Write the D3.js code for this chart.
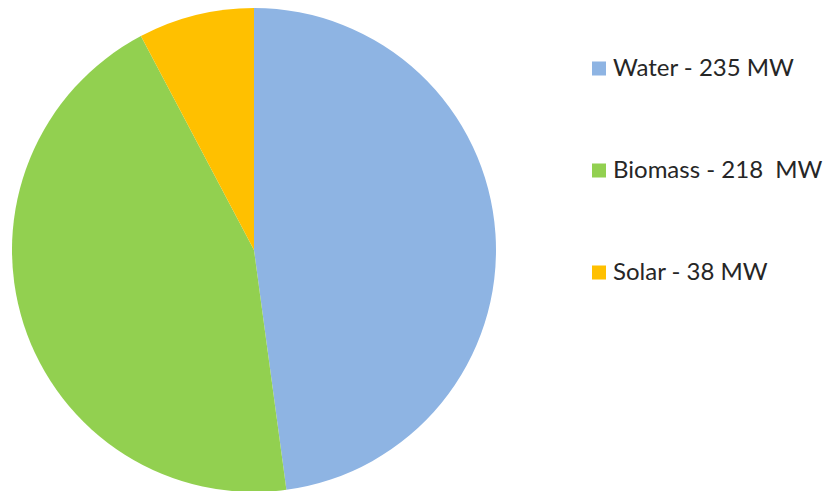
<!DOCTYPE html>
<html><head><meta charset="utf-8">
<script src="https://cdn.jsdelivr.net/npm/d3@7"></script>
<style>body{margin:0;background:#fff}svg{display:block}</style>
</head><body>
<script>
const categories = ["Water", "Biomass", "Solar"];
const values = [235, 218, 38];
const legendLabels = ["Water - 235 MW", "Biomass - 218\u00a0 MW", "Solar - 38 MW"];
const colors = ["#8EB4E3", "#92D050", "#FFC000"];

const W = 823, H = 491;
const svg = d3.select("body").append("svg").attr("width", W).attr("height", H);
const cx = 254, cy = 250, r = 242;
const pie = d3.pie().sort(null).value(d => d.v);
const arc = d3.arc().innerRadius(0).outerRadius(r);
const data = categories.map((c, i) => ({c, v: values[i], col: colors[i]}));
const g = svg.append("g").attr("transform", `translate(${cx},${cy})`);
g.selectAll("path").data(pie(data)).join("path")
  .attr("d", arc).attr("fill", d => d.data.col);

const ly = d3.scalePoint().domain(categories).range([68.5, 272.5]);
const lg = svg.append("g");
const items = lg.selectAll("g").data(data).join("g")
  .attr("transform", d => `translate(592,${ly(d.c)})`);
items.append("rect").attr("x", 0).attr("y", -7).attr("width", 14).attr("height", 14)
  .attr("fill", d => d.col);
items.append("text").attr("x", 21).attr("y", 7.5)
  .attr("font-family", "Lato, 'Open Sans', sans-serif").attr("font-size", 24)
  .attr("fill", "#262626")
  .text((d, i) => legendLabels[i]);
</script>
</body></html>
